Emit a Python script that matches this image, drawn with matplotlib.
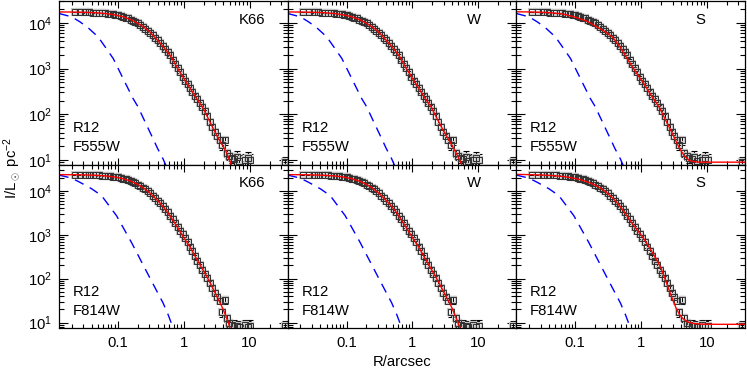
import numpy as np
import matplotlib
matplotlib.use('Agg')
import matplotlib.pyplot as plt
from matplotlib.ticker import LogLocator, NullFormatter, FuncFormatter, LogFormatterMathtext

plt.rcParams['font.family'] = ['Liberation Sans', 'DejaVu Sans']
plt.rcParams['mathtext.fontset'] = 'custom'
plt.rcParams['mathtext.rm'] = 'Liberation Sans'
plt.rcParams['mathtext.it'] = 'Liberation Sans'

# observed profile (same radii for both filters), arcsec
r_obs = [0.022, 0.027, 0.032, 0.037, 0.042, 0.047, 0.052, 0.058, 0.064, 0.070,
         0.077, 0.084, 0.092, 0.100, 0.110, 0.120, 0.131, 0.143, 0.156, 0.170,
         0.185, 0.202, 0.220, 0.240, 0.262, 0.285, 0.311, 0.339,
         0.370, 0.403, 0.440, 0.480, 0.523, 0.570, 0.622, 0.678, 0.739, 0.806, 0.879, 0.958,
         1.045, 1.14, 1.24, 1.35, 1.48, 1.61, 1.75, 1.91, 2.08,
         2.27, 2.48, 2.70, 2.94, 3.21, 3.50,
         3.81, 4.16, 4.53, 4.94, 5.39,
         5.87, 6.40, 7.0, 8.4, 9.3, 10.2,
         34.0]

i_f555w = [17140, 17070, 16970, 16860, 16740, 16610, 16460, 16270, 16060, 15840,
           15560, 15270, 14910, 14540, 14070, 13580, 13050, 12460, 11820, 11160,
           10460, 9720, 8970, 8210, 7440, 6730, 6010, 5340,
           4700, 4120, 3590, 3100, 2680, 2300, 1960, 1560, 1260, 1020, 830, 670,
           545, 450, 375, 312, 255, 213, 177, 147, 116,
           90, 69, 54, 42, 33, 27,
           21, 27, 14.5, 12.5, 11,
           10.5, 11.5, 9.5, 10.2, 11, 10,
           9.0]

i_f814w = [23320, 23230, 23120, 22990, 22850, 22700, 22520, 22290, 22040, 21780,
           21440, 21090, 20650, 20250, 19620, 19000, 18340, 17600, 16760, 15880,
           14970, 13950, 12950, 11870, 10810, 9790, 8770, 7800,
           6850, 5990, 5190, 4470, 3840, 3240, 2700, 2250, 1870, 1520, 1240, 1020,
           850, 680, 540, 420, 320, 250, 200, 160, 128,
           102, 80, 62, 48, 38, 31,
           17, 33, 13, 10, 9,
           8.5, 8.2, 8.1, 8.6, 8.0, 8.3,
           8.5]

rel_err = [0.01, 0.01, 0.01, 0.01, 0.01, 0.01, 0.01, 0.01, 0.01, 0.01,
           0.01, 0.01, 0.01, 0.01, 0.01, 0.01, 0.01, 0.01, 0.01, 0.01,
           0.02, 0.02, 0.02, 0.02, 0.02, 0.02, 0.02, 0.02,
           0.04, 0.04, 0.04, 0.04, 0.04, 0.04, 0.04, 0.04, 0.04, 0.04, 0.04, 0.04,
           0.07, 0.07, 0.07, 0.07, 0.07, 0.07, 0.07, 0.07, 0.07,
           0.12, 0.12, 0.12, 0.12, 0.12, 0.12,
           0.2, 0.2, 0.2, 0.2, 0.2,
           0.35, 0.35, 0.35, 0.35, 0.35, 0.35,
           0.3]

# model fits
r_k66_555 = [0.0128, 0.02, 0.03, 0.045, 0.065, 0.09, 0.12, 0.16, 0.2, 0.25, 0.3, 0.37, 0.45, 0.55,
             0.65, 0.8, 1.0, 1.25, 1.55, 1.95, 2.4, 2.9, 3.4, 3.9, 4.4, 4.8, 5.1, 5.35, 5.55, 5.65]
i_k66_555 = [17300, 17200, 17000, 16650, 16000, 14900, 13580, 11600, 9800, 8000, 6500, 4700, 3450, 2450,
             1760, 1030, 610, 370, 226, 140, 76, 44, 28.6, 20.5, 15.2, 11, 9, 7, 4, 2]

r_w_555 = [0.0128, 0.02, 0.03, 0.045, 0.065, 0.09, 0.12, 0.16, 0.2, 0.25, 0.3, 0.37, 0.45, 0.55,
           0.65, 0.8, 1.0, 1.25, 1.55, 1.95, 2.4, 2.9, 3.4, 3.9, 4.4, 4.9, 5.4, 5.8, 6.1, 6.3]
i_w_555 = [17300, 17200, 17000, 16650, 16000, 14900, 13580, 11600, 9800, 8000, 6500, 4700, 3450, 2450,
           1760, 1030, 610, 370, 226, 140, 77, 46, 31, 22, 16, 12, 9, 7, 4, 2]

r_s_555 = [0.0128, 0.02, 0.03, 0.045, 0.065, 0.1, 0.15, 0.2, 0.27, 0.368, 0.48, 0.6, 0.75, 0.935,
           1.1, 1.3, 1.55, 1.88, 2.4, 2.99, 3.75, 4.5, 5.35, 6.5, 7.6, 15, 38]
i_s_555 = [17400, 17300, 17000, 16500, 15600, 13300, 10900, 8600, 6700, 4900, 2950, 1750, 1050, 656,
           470, 318, 215, 144, 71, 37.7, 19, 12.5, 9.8, 9.2, 9.0, 9.0, 9.0]

r_k66_814 = [0.0128, 0.02, 0.03, 0.045, 0.065, 0.09, 0.12, 0.16, 0.2, 0.25, 0.3, 0.37, 0.45, 0.55,
             0.65, 0.8, 1.0, 1.25, 1.55, 1.95, 2.4, 2.9, 3.4, 3.9, 4.4, 4.8, 5.05, 5.3, 5.45]
i_k66_814 = [23500, 23400, 23200, 22700, 22000, 20700, 19000, 16500, 14200, 11400, 9200, 6850, 5000, 3500,
             2400, 1500, 860, 520, 290, 160, 92, 52, 32, 21, 13.5, 9.5, 7.2, 4.5, 2.5]

r_w_814 = [0.0128, 0.02, 0.03, 0.045, 0.065, 0.09, 0.12, 0.16, 0.2, 0.25, 0.3, 0.37, 0.45, 0.55,
           0.65, 0.8, 1.0, 1.25, 1.55, 1.95, 2.4, 2.9, 3.4, 3.9, 4.4, 4.9, 5.3, 5.6, 5.8]
i_w_814 = [23500, 23400, 23200, 22700, 22000, 20700, 19000, 16500, 14200, 11400, 9200, 6850, 5000, 3500,
           2400, 1500, 860, 520, 290, 160, 93, 54, 34, 23, 15, 10, 7.5, 5, 3]

r_s_814 = [0.0128, 0.02, 0.03, 0.045, 0.065, 0.09, 0.12, 0.16, 0.2, 0.25, 0.3, 0.37, 0.45, 0.55,
           0.7, 0.85, 1.05, 1.25, 1.49, 1.75, 2.0, 2.3, 2.66, 3.0, 3.37, 3.8, 4.24, 5.0, 6.0, 8.0, 15, 38]
i_s_814 = [23800, 23500, 23100, 22400, 21300, 19800, 18000, 15700, 13600, 11200, 9200, 6900, 5000, 3400,
           2000, 1350, 900, 600, 390, 260, 175, 100, 55, 34, 22, 15.5, 12.5, 10.5, 9.6, 9.2, 9.1, 9.1]

# PSF profiles
r_psf_555 = [0.0128, 0.02, 0.0266, 0.035, 0.05, 0.065, 0.085, 0.11, 0.135, 0.17, 0.2, 0.25, 0.3,
             0.343, 0.4, 0.485, 0.55, 0.6]
i_psf_555 = [16000, 13500, 10500, 7900, 4950, 2900, 1660, 783, 431, 221, 150, 76, 43.6,
             29, 18, 10.6, 7.0, 5.0]

r_psf_814 = [0.0128, 0.02, 0.0266, 0.04, 0.0566, 0.075, 0.0955, 0.125, 0.161, 0.22, 0.305,
             0.39, 0.485, 0.58, 0.69, 0.75]
i_psf_814 = [23000, 19500, 15700, 11200, 7800, 4430, 2720, 1320, 667, 270, 105,
             52, 28, 15, 7.5, 5.0]

col_names = ['K66', 'W', 'S']
row_filters = ['F555W', 'F814W']
row_data = [i_f555w, i_f814w]
row_psf = [(r_psf_555, i_psf_555), (r_psf_814, i_psf_814)]
models = [[(r_k66_555, i_k66_555), (r_w_555, i_w_555), (r_s_555, i_s_555)],
          [(r_k66_814, i_k66_814), (r_w_814, i_w_814), (r_s_814, i_s_814)]]
ylims = [(8, 3.0e4), (7.5, 4.0e4)]

fig, axes = plt.subplots(2, 3, figsize=(7.47, 3.70), dpi=100)
fig.subplots_adjust(left=0.079, right=0.9973, bottom=0.1135, top=0.9973, wspace=0, hspace=0)

r = np.array(r_obs)
for i in range(2):
    inten = np.array(row_data[i])
    err = inten * np.array(rel_err)
    for j in range(3):
        ax = axes[i, j]
        ax.set_xscale('log')
        ax.set_yscale('log')
        ax.plot(row_psf[i][0], row_psf[i][1], color='blue', lw=1.0, dashes=(7, 5))
        ax.errorbar(r, inten, yerr=err, fmt='none', ecolor='black', elinewidth=0.8,
                    capsize=2.2, capthick=0.8)
        ax.plot(r, inten, 's', ms=5.0, mfc='none', mec='#c4c4c4', mew=1.6)
        ax.plot(r, inten, 's', ms=5.0, mfc='none', mec='#303030', mew=0.7)
        ax.plot(models[i][j][0], models[i][j][1], color='red', lw=1.0)
        ax.set_xlim(0.0128, 37.7)
        ax.set_ylim(*ylims[i])
        ax.xaxis.set_major_locator(LogLocator(base=10, numticks=10))
        ax.xaxis.set_minor_locator(LogLocator(base=10, subs=np.arange(2, 10), numticks=20))
        ax.yaxis.set_major_locator(LogLocator(base=10, numticks=10))
        ax.yaxis.set_minor_locator(LogLocator(base=10, subs=np.arange(2, 10), numticks=20))
        ax.xaxis.set_minor_formatter(NullFormatter())
        ax.yaxis.set_minor_formatter(NullFormatter())
        ax.xaxis.set_major_formatter(FuncFormatter(lambda v, p: '%g' % v))
        ax.yaxis.set_major_formatter(LogFormatterMathtext())
        ax.tick_params(axis='x', which='major', direction='in', length=5, width=0.8,
                       top=True, bottom=True, labelsize=10.7, pad=6)
        ax.tick_params(axis='x', which='minor', direction='in', length=2.8, width=0.8,
                       top=True, bottom=True)
        ax.tick_params(axis='y', which='major', direction='in', length=6.5, width=0.8,
                       left=True, right=True, labelsize=10.7, pad=5)
        ax.tick_params(axis='y', which='minor', direction='in', length=3.6, width=0.8,
                       left=True, right=True)
        if i == 0:
            ax.tick_params(axis='x', labelbottom=False)
        if j > 0:
            ax.tick_params(axis='y', labelleft=False)
        for s in ax.spines.values():
            s.set_linewidth(0.9)
        ax.text(0.785, 0.885, col_names[j], transform=ax.transAxes, fontsize=10.7,
                ha='left', va='center')
        ax.text(0.06, 0.221, 'R12', transform=ax.transAxes, fontsize=10.7,
                ha='left', va='center')
        ax.text(0.06, 0.104, row_filters[i], transform=ax.transAxes, fontsize=10.7,
                ha='left', va='center')

fig.text(402 / 747, 1 - 362 / 370, 'R/arcsec', ha='center', va='center', fontsize=10.7)
fig.text(12 / 747, 1 - 168 / 370, r'I/L$_\odot$ pc$^{-2}$', ha='center', va='center',
         rotation=90, fontsize=10.7)

fig.savefig('out.png', dpi=100)
